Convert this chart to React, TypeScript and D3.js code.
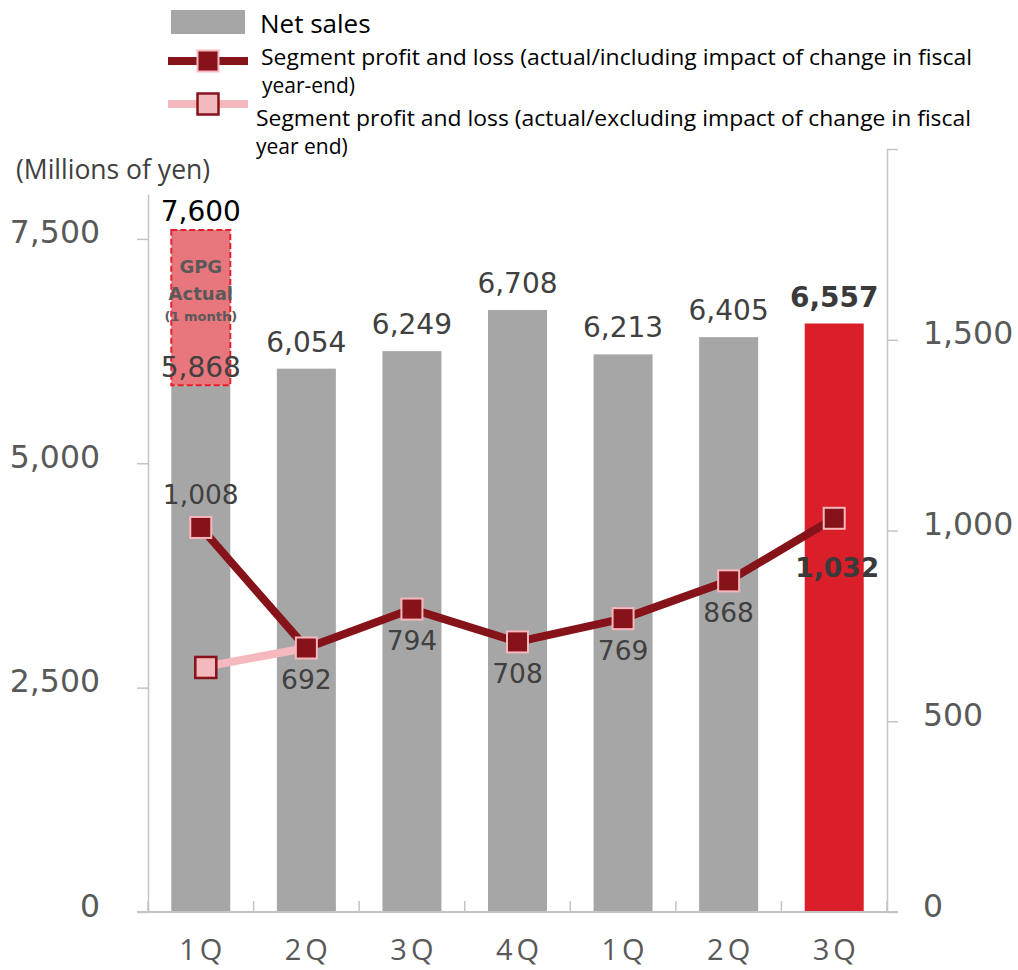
import * as d3 from "d3";
import React from "react";

// chart data
const quarters = ["1Q", "2Q", "3Q", "4Q", "1Q", "2Q", "3Q"];
const netSales = [5868, 6054, 6249, 6708, 6213, 6405, 6557];
const gpgActual = 7600; // 1Q incl. GPG actual (1 month)
const profitIncl = [1008, 692, 794, 708, 769, 868, 1032];
const profitExcl = [641, 692];
const leftTicks = [0, 2500, 5000, 7500];
const rightTicks = [0, 500, 1000, 1500, 2000];

const NUM_FONT = "'DejaVu Sans', Verdana, sans-serif";
const TXT_FONT = "'Open Sans', 'Noto Sans', sans-serif";

const App = () => {
  const ref = React.useRef<SVGSVGElement>(null);

  React.useEffect(() => {
    const svg = d3.select(ref.current);
    svg.selectAll("*").remove();

    const left = 148,
      right = 887,
      base = 912;

    const x = d3
      .scaleBand<number>()
      .domain(d3.range(quarters.length))
      .range([left, right]);
    const cx = (i: number) => (x(i) as number) + x.bandwidth() / 2;
    const barW = 59;

    const yL = d3.scaleLinear().domain([0, 8000]).range([base, 194]);
    const yR = d3.scaleLinear().domain([0, 2000]).range([base, 149]);
    const fmt = d3.format(",");

    // bars
    svg
      .append("g")
      .selectAll("rect")
      .data(netSales)
      .enter()
      .append("rect")
      .attr("x", (d, i) => cx(i) - barW / 2)
      .attr("y", (d) => yL(d))
      .attr("width", barW)
      .attr("height", (d) => base - yL(d))
      .attr("fill", (d, i) => (i === netSales.length - 1 ? "#da1f2a" : "#a6a6a6"));

    // GPG overlay on first bar
    svg
      .append("rect")
      .attr("x", cx(0) - barW / 2)
      .attr("y", yL(gpgActual))
      .attr("width", barW)
      .attr("height", yL(netSales[0]) - yL(gpgActual))
      .attr("fill", "#e8767d")
      .attr("stroke", "#e3212d")
      .attr("stroke-width", 2)
      .attr("stroke-dasharray", "6,3");

    const gpgText = [
      { t: "GPG", y: 273, s: 18 },
      { t: "Actual", y: 300, s: 18 },
      { t: "(1 month)", y: 321, s: 13 },
    ];
    svg
      .append("g")
      .selectAll("text")
      .data(gpgText)
      .enter()
      .append("text")
      .attr("x", cx(0))
      .attr("y", (d) => d.y)
      .attr("text-anchor", "middle")
      .attr("font-family", NUM_FONT)
      .attr("font-weight", "bold")
      .attr("font-size", (d) => d.s)
      .attr("fill", "#595959")
      .text((d) => d.t);

    svg
      .append("text")
      .attr("x", cx(0))
      .attr("y", yL(gpgActual) - 9)
      .attr("text-anchor", "middle")
      .attr("font-family", NUM_FONT)
      .attr("font-size", 28)
      .attr("fill", "#000")
      .text(fmt(gpgActual));

    // bar labels
    svg
      .append("g")
      .selectAll("text")
      .data(netSales)
      .enter()
      .append("text")
      .attr("x", (d, i) => cx(i))
      .attr("y", (d, i) => (i === 0 ? yL(d) - 8 : yL(d) - 17))
      .attr("text-anchor", "middle")
      .attr("font-family", NUM_FONT)
      .attr("font-size", 28)
      .attr("font-weight", (d, i) => (i === netSales.length - 1 ? "bold" : "normal"))
      .attr("fill", (d, i) => (i === netSales.length - 1 ? "#3a3a3a" : "#404040"))
      .text((d) => fmt(d));

    // axes
    const leftAxis = svg
      .append("g")
      .attr("transform", `translate(${left},0)`)
      .call(
        d3
          .axisLeft(yL)
          .tickValues(leftTicks)
          .tickSize(11)
          .tickSizeOuter(0)
          .tickPadding(37)
          .tickFormat((d) => fmt(d as number))
      );
    const rightAxis = svg
      .append("g")
      .attr("transform", `translate(${right},0)`)
      .call(
        d3
          .axisRight(yR)
          .tickValues(rightTicks)
          .tickSize(11)
          .tickSizeOuter(0)
          .tickPadding(25)
          .tickFormat((d) => ((d as number) === 2000 ? "" : fmt(d as number)))
      );
    [leftAxis, rightAxis].forEach((g) => {
      g.selectAll("path, line").attr("stroke", "#c4c4c4").attr("stroke-width", 1.5);
      g.selectAll("text")
        .attr("font-family", NUM_FONT)
        .attr("font-size", 31.5)
        .attr("fill", "#595959")
        .attr("dy", "0.13em");
    });

    // category axis
    const xAxis = svg.append("g");
    xAxis
      .append("line")
      .attr("x1", left - 11)
      .attr("x2", right + 11)
      .attr("y1", base)
      .attr("y2", base)
      .attr("stroke", "#c4c4c4")
      .attr("stroke-width", 2);
    xAxis
      .selectAll(".tk")
      .data(d3.range(quarters.length + 1))
      .enter()
      .append("line")
      .attr("x1", (i) => left + i * x.step())
      .attr("x2", (i) => left + i * x.step())
      .attr("y1", base)
      .attr("y2", base - 11)
      .attr("stroke", "#c4c4c4")
      .attr("stroke-width", 1.5);
    xAxis
      .selectAll(".lbl")
      .data(quarters)
      .enter()
      .append("text")
      .attr("x", (d, i) => cx(i) + 2)
      .attr("y", 960)
      .attr("text-anchor", "middle")
      .attr("font-family", TXT_FONT)
      .attr("font-size", 29)
      .attr("letter-spacing", 4)
      .attr("fill", "#595959")
      .text((d) => d);

    // lines
    const line = d3
      .line<number>()
      .x((d, i) => cx(i))
      .y((d) => yR(d));

    svg
      .append("path")
      .datum(profitExcl)
      .attr("d", line)
      .attr("fill", "none")
      .attr("stroke", "#f4b8bd")
      .attr("stroke-width", 8);

    svg
      .append("path")
      .datum(profitIncl)
      .attr("d", line)
      .attr("fill", "none")
      .attr("stroke", "#86121a")
      .attr("stroke-width", 8)
      .attr("stroke-linejoin", "round");

    const ms = 21;
    svg
      .append("g")
      .selectAll("rect")
      .data(profitExcl.slice(0, 1))
      .enter()
      .append("rect")
      .attr("x", (d, i) => cx(i) + 5 - ms / 2)
      .attr("y", (d) => yR(d) - ms / 2)
      .attr("width", ms)
      .attr("height", ms)
      .attr("fill", "#f4b9bd")
      .attr("stroke", "#86121a")
      .attr("stroke-width", 2.5);

    svg
      .append("g")
      .selectAll("rect")
      .data(profitIncl)
      .enter()
      .append("rect")
      .attr("x", (d, i) => cx(i) - ms / 2)
      .attr("y", (d) => yR(d) - ms / 2)
      .attr("width", ms)
      .attr("height", ms)
      .attr("fill", "#86121a")
      .attr("stroke", "#f6b8bd")
      .attr("stroke-width", 2);

    // line labels
    svg
      .append("g")
      .selectAll("text")
      .data(profitIncl)
      .enter()
      .append("text")
      .attr("x", (d, i) => cx(i) + (i === profitIncl.length - 1 ? 3 : 0))
      .attr("y", (d, i) => {
        if (i === 0) return yR(d) - 23;
        if (i === profitIncl.length - 1) return yR(d) + 59;
        return yR(d) + 41;
      })
      .attr("text-anchor", "middle")
      .attr("font-family", NUM_FONT)
      .attr("font-size", 26.5)
      .attr("font-weight", (d, i) => (i === profitIncl.length - 1 ? "bold" : "normal"))
      .attr("fill", (d, i) => (i === profitIncl.length - 1 ? "#3a3a3a" : "#404040"))
      .text((d) => fmt(d));

    // unit label
    svg
      .append("text")
      .attr("x", 16)
      .attr("y", 179)
      .attr("font-family", TXT_FONT)
      .attr("font-size", 26.5)
      .attr("fill", "#404040")
      .text("(Millions of yen)");

    // legend
    const lg = svg.append("g");
    lg.append("rect")
      .attr("x", 171)
      .attr("y", 10)
      .attr("width", 74)
      .attr("height", 24)
      .attr("fill", "#a6a6a6");
    lg.append("text")
      .attr("x", 260)
      .attr("y", 33)
      .attr("font-family", TXT_FONT)
      .attr("font-size", 26)
      .attr("fill", "#000")
      .text("Net sales");

    lg.append("line")
      .attr("x1", 168)
      .attr("x2", 248)
      .attr("y1", 61)
      .attr("y2", 61)
      .attr("stroke", "#86121a")
      .attr("stroke-width", 8);
    lg.append("rect")
      .attr("x", 208 - ms / 2)
      .attr("y", 61 - ms / 2)
      .attr("width", ms)
      .attr("height", ms)
      .attr("fill", "#86121a")
      .attr("stroke", "#f6b8bd")
      .attr("stroke-width", 2);

    lg.append("line")
      .attr("x1", 168)
      .attr("x2", 248)
      .attr("y1", 104)
      .attr("y2", 104)
      .attr("stroke", "#f4b8bd")
      .attr("stroke-width", 8);
    lg.append("rect")
      .attr("x", 208 - ms / 2)
      .attr("y", 104 - ms / 2)
      .attr("width", ms)
      .attr("height", ms)
      .attr("fill", "#f4b9bd")
      .attr("stroke", "#86121a")
      .attr("stroke-width", 2.5);

    const legendLines = [
      { t: "Segment profit and loss (actual/including impact of change in fiscal", x: 261, y: 65, w: 711 },
      { t: "year-end)", x: 262, y: 93, w: 0 },
      { t: "Segment profit and loss (actual/excluding impact of change in fiscal", x: 256, y: 126, w: 715 },
      { t: "year end)", x: 256, y: 154, w: 0 },
    ];
    lg.selectAll(".lt")
      .data(legendLines)
      .enter()
      .append("text")
      .attr("x", (d) => d.x)
      .attr("y", (d) => d.y)
      .attr("font-family", TXT_FONT)
      .attr("font-size", 21)
      .attr("fill", "#000")
      .each(function (d) {
        if (d.w) {
          d3.select(this).attr("textLength", d.w).attr("lengthAdjust", "spacingAndGlyphs");
        }
      })
      .text((d) => d.t);
  }, []);

  return (
    <svg
      ref={ref}
      width={1018}
      height={970}
      style={{ position: "absolute", left: 0, top: 0, background: "#fff" }}
    />
  );
};

export default App;
